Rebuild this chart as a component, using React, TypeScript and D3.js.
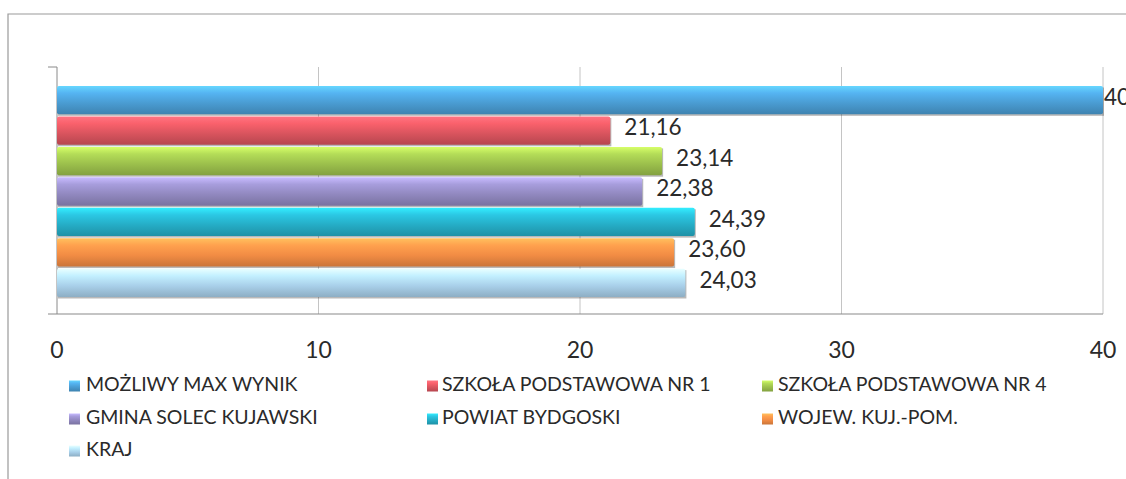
import React, { useEffect, useRef } from 'react';
import * as d3 from 'd3';

// series (one bar each, top to bottom)
const seriesNames = [
  'MOŻLIWY MAX WYNIK',
  'SZKOŁA PODSTAWOWA NR 1',
  'SZKOŁA PODSTAWOWA NR 4',
  'GMINA SOLEC KUJAWSKI',
  'POWIAT BYDGOSKI',
  'WOJEW. KUJ.-POM.',
  'KRAJ',
];
const seriesValues = [40, 21.16, 23.14, 22.38, 24.39, 23.6, 24.03];
const seriesColors = ['#4a9cd2', '#d9545e', '#9cc04c', '#9188bf', '#25adc6', '#f28c44', '#a9d0ea'];
const xTicks = [0, 10, 20, 30, 40];

const FONT = 'Lato, "Open Sans", sans-serif';

const App = () => {
  const ref = useRef<SVGSVGElement>(null);

  useEffect(() => {
    const width = 1126;
    const height = 479;
    const svg = d3.select(ref.current);
    svg.selectAll('*').remove();

    const x = d3.scaleLinear().domain([0, 40]).range([57, 1103]);
    const y = d3.scaleBand<string>().domain(seriesNames).range([86, 297]).paddingInner(0.07);
    const plotTop = 67;
    const plotBottom = 314;

    const fmt = (v: number) => (Number.isInteger(v) ? String(v) : d3.format('.2f')(v).replace('.', ','));

    // gradients for the glossy bars
    const defs = svg.append('defs');
    seriesColors.forEach((c, i) => {
      const g = defs.append('linearGradient')
        .attr('id', `grad${i}`)
        .attr('x1', 0).attr('y1', 0).attr('x2', 0).attr('y2', 1);
      const base = d3.color(c)!;
      g.append('stop').attr('offset', '0%').attr('stop-color', d3.color(c)!.brighter(0.9).formatHex());
      g.append('stop').attr('offset', '25%').attr('stop-color', d3.color(c)!.brighter(0.4).formatHex());
      g.append('stop').attr('offset', '60%').attr('stop-color', base.formatHex());
      g.append('stop').attr('offset', '100%').attr('stop-color', d3.color(c)!.darker(0.5).formatHex());
    });

    // outer chart frame
    svg.append('path')
      .attr('d', `M8,${height} L8,14 L${width},14`)
      .attr('fill', 'none')
      .attr('stroke', '#9a9a9a')
      .attr('stroke-width', 1.2);

    // grid
    svg.append('g')
      .selectAll('line')
      .data(xTicks.slice(1))
      .join('line')
        .attr('x1', d => x(d)).attr('x2', d => x(d))
        .attr('y1', plotTop).attr('y2', plotBottom)
        .attr('stroke', '#c4c4c4')
        .attr('stroke-width', 1);

    // axes
    svg.append('line')
      .attr('x1', x(0)).attr('x2', x(0))
      .attr('y1', plotTop).attr('y2', plotBottom)
      .attr('stroke', '#8a8a8a');
    svg.append('line')
      .attr('x1', 48).attr('x2', x(0))
      .attr('y1', plotTop).attr('y2', plotTop)
      .attr('stroke', '#8a8a8a');
    svg.append('line')
      .attr('x1', 48).attr('x2', x(40))
      .attr('y1', plotBottom).attr('y2', plotBottom)
      .attr('stroke', '#8a8a8a')
      .attr('stroke-width', 1.2);

    // bars
    const bars = svg.append('g');
    seriesNames.forEach((name, i) => {
      const y0 = y(name)!;
      const bw = y.bandwidth();
      const w = x(seriesValues[i]) - x(0);
      bars.append('rect')
        .attr('x', x(0) + 1).attr('y', y0 + 1.5)
        .attr('width', w).attr('height', bw)
        .attr('fill', '#333')
        .attr('opacity', 0.35);
      bars.append('rect')
        .attr('x', x(0)).attr('y', y0)
        .attr('width', w).attr('height', bw)
        .attr('rx', 2)
        .attr('fill', `url(#grad${i})`);
    });

    // data labels
    svg.append('g')
      .selectAll('text')
      .data(seriesNames)
      .join('text')
        .attr('x', (d, i) => x(seriesValues[i]) + (i === 0 ? 1 : 14))
        .attr('y', d => y(d)! + y.bandwidth() / 2 - 1)
        .attr('dominant-baseline', 'middle')
        .attr('font-family', FONT)
        .attr('font-size', 22.5)
        .attr('fill', '#2a2a2a')
        .text((d, i) => fmt(seriesValues[i]));

    // x tick labels
    svg.append('g')
      .selectAll('text')
      .data(xTicks)
      .join('text')
        .attr('x', d => x(d))
        .attr('y', 352)
        .attr('text-anchor', 'middle')
        .attr('dominant-baseline', 'middle')
        .attr('font-family', FONT)
        .attr('font-size', 23)
        .attr('fill', '#2a2a2a')
        .text(d => d);

    // legend (3 columns)
    const markX = [69, 427, 762];
    const textX = [86, 442, 778];
    const rowY = [386, 419, 451];
    const legend = svg.append('g');
    seriesNames.forEach((name, i) => {
      const col = i % 3;
      const cy = rowY[Math.floor(i / 3)];
      legend.append('rect')
        .attr('x', markX[col]).attr('y', cy - 5.5)
        .attr('width', 11).attr('height', 11)
        .attr('fill', `url(#grad${i})`);
      legend.append('text')
        .attr('x', textX[col]).attr('y', cy)
        .attr('dominant-baseline', 'middle')
        .attr('font-family', FONT)
        .attr('font-size', 19.5)
        .attr('fill', '#2a2a2a')
        .text(name);
    });
  }, []);

  return (
    <svg
      ref={ref}
      width={1126}
      height={479}
      style={{ position: 'absolute', left: 0, top: 0, background: '#fff' }}
    />
  );
};

export default App;
